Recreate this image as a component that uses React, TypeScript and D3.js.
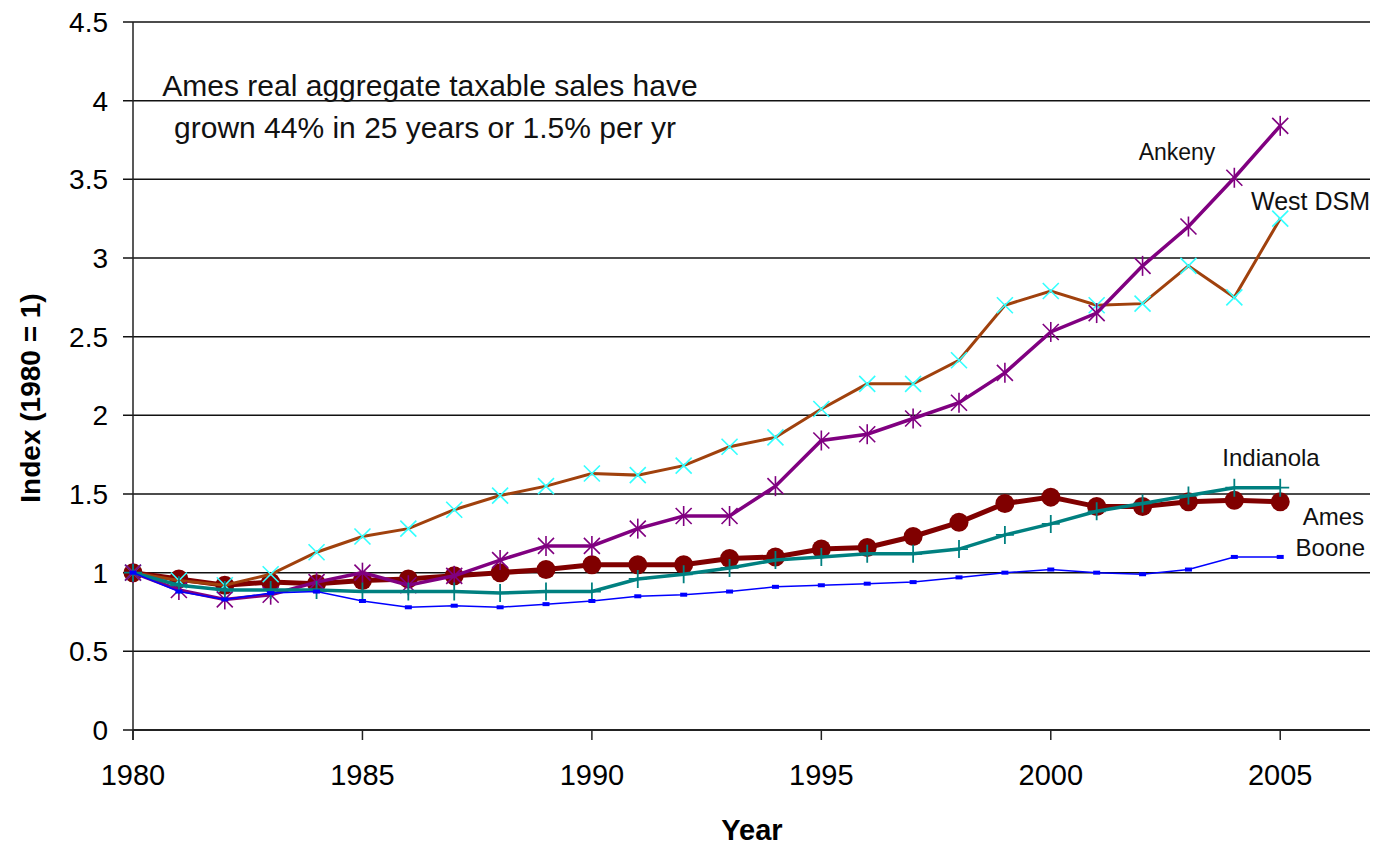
import * as d3 from 'd3';

const years = [
  1980, 1981, 1982, 1983, 1984, 1985, 1986, 1987, 1988, 1989, 1990, 1991, 1992,
  1993, 1994, 1995, 1996, 1997, 1998, 1999, 2000, 2001, 2002, 2003, 2004, 2005,
];

const ames = [
  1.0, 0.96, 0.92, 0.94, 0.93, 0.95, 0.96, 0.98, 1.0, 1.02, 1.05, 1.05, 1.05,
  1.09, 1.1, 1.15, 1.16, 1.23, 1.32, 1.44, 1.48, 1.42, 1.42, 1.45, 1.46, 1.45,
];
const indianola = [
  1.0, 0.92, 0.89, 0.89, 0.89, 0.88, 0.88, 0.88, 0.87, 0.88, 0.88, 0.96, 0.99,
  1.03, 1.08, 1.1, 1.12, 1.12, 1.15, 1.24, 1.31, 1.39, 1.44, 1.49, 1.54, 1.54,
];
const ankeny = [
  1.0, 0.89, 0.83, 0.86, 0.94, 1.0, 0.92, 0.98, 1.08, 1.17, 1.17, 1.28, 1.36,
  1.36, 1.55, 1.84, 1.88, 1.98, 2.08, 2.27, 2.53, 2.65, 2.95, 3.2, 3.51, 3.84,
];
const westDsm = [
  1.0, 0.95, 0.92, 0.99, 1.13, 1.23, 1.28, 1.4, 1.49, 1.55, 1.63, 1.62, 1.68,
  1.8, 1.86, 2.04, 2.2, 2.2, 2.35, 2.7, 2.79, 2.7, 2.71, 2.95, 2.75, 3.25,
];
const boone = [
  1.0, 0.88, 0.83, 0.87, 0.88, 0.82, 0.78, 0.79, 0.78, 0.8, 0.82, 0.85, 0.86,
  0.88, 0.91, 0.92, 0.93, 0.94, 0.97, 1.0, 1.02, 1.0, 0.99, 1.02, 1.1, 1.1,
];

const yTicks = [0, 0.5, 1, 1.5, 2, 2.5, 3, 3.5, 4, 4.5];
const xTicks = [1980, 1985, 1990, 1995, 2000, 2005];

const W = 1374;
const H = 847;
const FONT = '"Liberation Sans", Arial, sans-serif';

const x = d3.scaleLinear().domain([1980, 2007]).range([133, 1372]);
const y = d3.scaleLinear().domain([0, 4.5]).range([730, 22]);

type Pt = [number, number];
const pts = (vals: number[]): Pt[] => vals.map((v, i) => [x(years[i]), y(v)]);
const line = d3.line<Pt>().x(d => d[0]).y(d => d[1]);

function Plus({ p, s, color }: { p: Pt; s: number; color: string }) {
  return (
    <path
      d={`M${p[0] - s},${p[1]}H${p[0] + s}M${p[0]},${p[1] - s}V${p[1] + s}`}
      stroke={color}
      strokeWidth={1.8}
    />
  );
}

function Cross({ p, s, color }: { p: Pt; s: number; color: string }) {
  return (
    <path
      d={`M${p[0] - s},${p[1] - s}L${p[0] + s},${p[1] + s}M${p[0] - s},${p[1] + s}L${p[0] + s},${p[1] - s}`}
      stroke={color}
      strokeWidth={1.6}
    />
  );
}

export default function App() {
  const amesPts = pts(ames);
  const indPts = pts(indianola);
  const ankPts = pts(ankeny);
  const wdPts = pts(westDsm);
  const boonePts = pts(boone);

  return (
    <svg
      width={W}
      height={H}
      style={{ position: 'absolute', left: 0, top: 0, background: '#fff' }}
      fontFamily={FONT}
    >
      {/* gridlines + y ticks */}
      {yTicks.map(t => (
        <g key={t}>
          <line x1={123} x2={1370} y1={y(t)} y2={y(t)} stroke="#111" strokeWidth={1.5} />
          <text x={108} y={y(t)} dy="0.36em" textAnchor="end" fontSize={28}>
            {t}
          </text>
        </g>
      ))}
      {/* axes */}
      <line x1={133} x2={133} y1={y(4.5)} y2={740} stroke="#222" strokeWidth={1.5} />
      <line x1={133} x2={1370} y1={y(0)} y2={y(0)} stroke="#222" strokeWidth={1.8} />
      {xTicks.map(t => (
        <g key={t}>
          <line x1={x(t)} x2={x(t)} y1={y(0)} y2={740} stroke="#222" strokeWidth={1.5} />
          <text x={x(t)} y={785} textAnchor="middle" fontSize={29}>
            {t}
          </text>
        </g>
      ))}
      <text x={752} y={840} textAnchor="middle" fontSize={29} fontWeight="bold">
        Year
      </text>
      <text
        transform={`translate(40,398) rotate(-90)`}
        textAnchor="middle"
        fontSize={28}
        fontWeight="bold"
      >
        Index (1980 = 1)
      </text>

      {/* Ames */}
      <path d={line(amesPts) ?? ''} fill="none" stroke="#800000" strokeWidth={5} />
      {amesPts.map((p, i) => (
        <circle key={i} cx={p[0]} cy={p[1]} r={9.5} fill="#800000" />
      ))}

      {/* West DSM */}
      <path d={line(wdPts) ?? ''} fill="none" stroke="#A0410D" strokeWidth={3} />
      {wdPts.map((p, i) => (
        <Cross key={i} p={p} s={8} color="#33FFFF" />
      ))}

      {/* Ankeny */}
      <path d={line(ankPts) ?? ''} fill="none" stroke="#800080" strokeWidth={3.5} />
      {ankPts.map((p, i) => (
        <g key={i}>
          <Cross p={p} s={8} color="#800080" />
          <path d={`M${p[0]},${p[1] - 10}V${p[1] + 10}`} stroke="#800080" strokeWidth={1.6} />
        </g>
      ))}

      {/* Indianola */}
      <path d={line(indPts) ?? ''} fill="none" stroke="#008080" strokeWidth={3.5} />
      {indPts.map((p, i) => (
        <Plus key={i} p={p} s={9} color="#008080" />
      ))}

      {/* Boone */}
      <path d={line(boonePts) ?? ''} fill="none" stroke="#0000FF" strokeWidth={1.5} />
      {boonePts.map((p, i) => (
        <rect key={i} x={p[0] - 3.5} y={p[1] - 2} width={7} height={4} fill="#0000FF" />
      ))}

      {/* series labels */}
      <g fontSize={23} fill="#111">
        <text x={1177} y={160} textAnchor="middle">Ankeny</text>
        <text x={1370} y={210} textAnchor="end" fontSize={25}>West DSM</text>
        <text x={1271} y={466} textAnchor="middle" fontSize={24}>Indianola</text>
        <text x={1364} y={525} textAnchor="end" fontSize={24}>Ames</text>
        <text x={1365} y={556} textAnchor="end" fontSize={24}>Boone</text>
      </g>

      {/* annotation */}
      <g fontSize={30} textAnchor="middle" fill="#111">
        <text x={430} y={96}>Ames real aggregate taxable sales have</text>
        <text x={425} y={138}>grown 44% in 25 years or 1.5% per yr</text>
      </g>
    </svg>
  );
}
